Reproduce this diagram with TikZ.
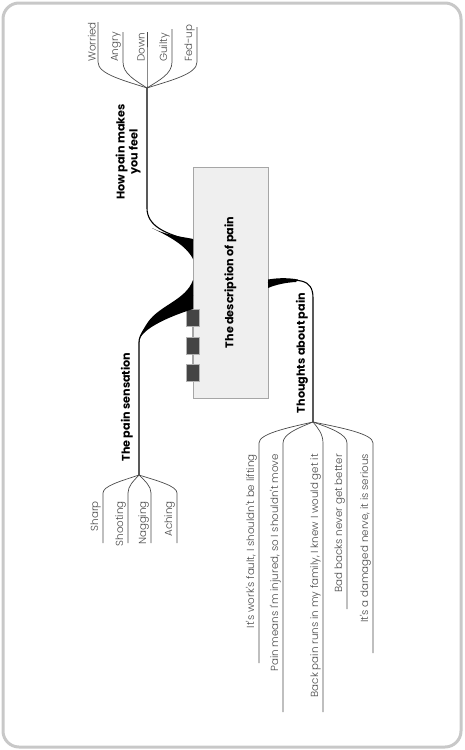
\documentclass[tikz,border=0pt]{standalone}
\usepackage{fontspec}
\setmainfont{Poppins}
\newfontfamily\leaffont{Poppins Light}
\usetikzlibrary{positioning}

\definecolor{framegray}{HTML}{C8C8C8}
\definecolor{boxfill}{HTML}{EFEFEF}
\definecolor{leafgray}{HTML}{4A4A4A}
\definecolor{tabgray}{HTML}{444444}

\tikzset{
  leaf/.style={rotate=90, inner sep=1pt, font=\leaffont\fontsize{10.3}{12}\selectfont, text=leafgray},
  branchlabel/.style={rotate=90, inner sep=0pt, align=center, font=\bfseries\fontsize{11.2}{13}\selectfont},
  centralbox/.style={rotate=90, draw=gray!70, fill=boxfill, minimum width=231pt, minimum height=75pt, inner sep=0pt, font=\bfseries\fontsize{11.2}{13}\selectfont},
  tab/.style={draw=gray!60, fill=tabgray, minimum width=13pt, minimum height=17pt, inner sep=0pt},
  twig/.style={draw=leafgray, line width=0.7pt},
  stem/.style={line width=1.1pt},
}

\begin{document}
\begin{tikzpicture}[x=1pt, y=-1pt]
    \useasboundingbox (0,0) rectangle (464,750);
    % frame
    \draw [framegray, line width=3pt, rounded corners=16pt] (3,3) rectangle (461,747);

    % central box and tabs
    \node [centralbox] (desc) at (230.5,282.5) {The description of pain};
    \node [tab] (tab1) at (192.5,318) {};
    \node [tab] (tab2) at (192.5,345.5) {};
    \node [tab] (tab3) at (192.5,372.5) {};
    \draw [gray!70, line width=0.6pt] (tab1) -- (tab2) -- (tab3);

    % How pain makes you feel
    \coordinate (feelhub) at (147,88);
    \coordinate (feelbend) at (147,208);
    \draw [stem] (feelhub) -- (feelbend) .. controls (147,226) and (165,234) .. (193,241);
    \fill (152,228) .. controls (168,236) and (185,237) .. (193,239)
        -- (193,259) .. controls (186,245) and (168,236) .. (152,228) -- cycle;
    \node [branchlabel] (feellabel) at (128,152) {How pain makes\\you feel};
    \foreach \word/\lx/\ly [count=\i] in {Worried/98/22, Angry/123/32, Down/147/32, Guilty/172/29, Fed-up/197/27} {
        \node [leaf, anchor=south west] (feel\i) at (\lx-1,63) {\word};
        \coordinate (feeltop\i) at (\lx,\ly);
        \draw [twig] (feelhub) .. controls ({147+(\lx-147)*0.5},80) and (\lx,74) .. (\lx,62) -- (feeltop\i);
    }

    % The pain sensation
    \coordinate (senshub) at (139,475);
    \coordinate (sensbend) at (139,342);
    \draw [stem] (senshub) -- (sensbend) .. controls (139,330) and (160,310) .. (193,295);
    \fill (193,280) .. controls (186,300) and (160,305) .. (148,322)
        .. controls (142,331) and (139.6,336) .. (139.6,342)
        -- (139,342) .. controls (140,330) and (165,318) .. (193,309) -- cycle;
    \node [branchlabel] (senslabel) at (127,407) {The pain sensation};
    \foreach \word/\lx [count=\i] in {Sharp/103, Shooting/128, Nagging/151, Aching/177} {
        \node [leaf, anchor=south east] (sens\i) at (\lx-1,500) {\word};
        \coordinate (sensend\i) at (\lx,543);
        \draw [twig] (senshub) .. controls ({139+(\lx-139)*0.5},481) and (\lx,486) .. (\lx,493) -- (sensend\i);
    }

    % Thoughts about pain
    \coordinate (thoughub) at (313,422);
    \coordinate (thoubend) at (313,298);
    \draw [stem] (268,283) .. controls (298,278) and (313,278) .. (thoubend) -- (thoughub);
    \fill (268,279.5) .. controls (280,277.5) and (290,278) .. (298,279.5)
        -- (296,282) .. controls (285,282.5) and (275,285) .. (268,288) -- cycle;
    \node [branchlabel] (thoulabel) at (302,353) {Thoughts about pain};
    \foreach \word/\lx/\ly [count=\i] in {%
        {It's work's fault, I shouldn't be lifting}/259/663,
        {Pain means I'm injured, so I shouldn't move}/283/712,
        {Back pain runs in my family, I knew I would get it}/323/712,
        {Bad backs never get better}/347/609,
        {It's a damaged nerve, it is serious}/373/653} {
        \node [leaf, anchor=south east] (thou\i) at (\lx-1,453) {\word};
        \coordinate (thouend\i) at (\lx,\ly);
        \draw [twig] (thoughub) .. controls ({313+(\lx-313)*0.5},428) and (\lx,434) .. (\lx,443) -- (thouend\i);
    }
\end{tikzpicture}
\end{document}
